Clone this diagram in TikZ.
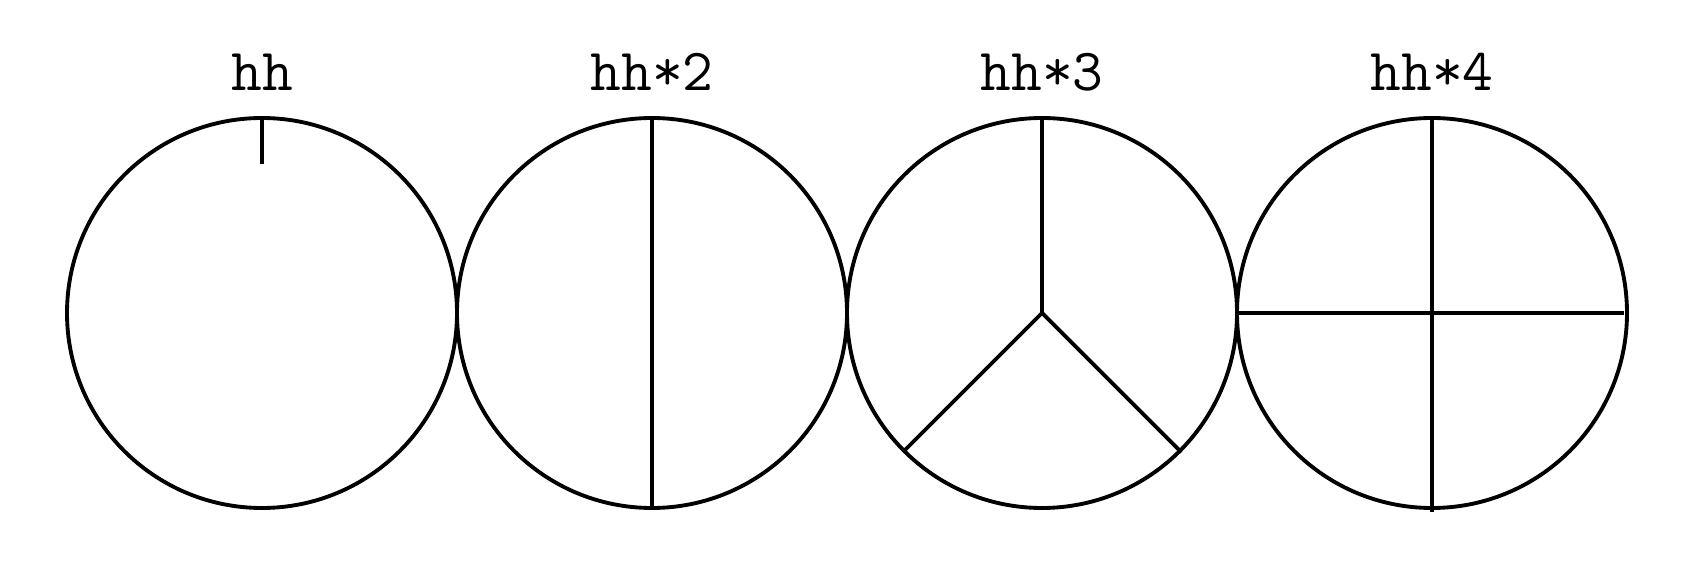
\documentclass[tikz,border=0pt]{standalone}
\usetikzlibrary{positioning}

\tikzset{
  wheel/.style={draw, circle, inner sep=0pt, minimum size=7.8cm},
  tag/.style={anchor=base, font=\ttfamily\fontsize{34pt}{34pt}\selectfont}
}

\begin{document}
\begin{tikzpicture}[line width=2.2pt]
  \useasboundingbox (0,0) rectangle (33.68,11.72);

  % 四个圆和标题
  \foreach \i/\x/\t in {1/5.24/hh, 2/13.04/hh*2, 3/20.84/hh*3, 4/28.64/hh*4} {
    \node[wheel] (w\i) at (\x,5.46) {};
    \node[tag] (t\i) at (\x,9.9) {\t};
  }

  % hh：顶部短刻度
  \coordinate (k1) at ([yshift=-0.96cm]w1.north);
  \draw (w1.north) -- (k1);

  % hh*2：竖直直径
  \draw (w2.north) -- (w2.south);

  % hh*3：三条半径
  \draw (w3.north) -- (w3.center);
  \draw (w3.center) -- (w3.-135);
  \draw (w3.center) -- (w3.-45);

  % hh*4：十字
  \coordinate (k4) at ([yshift=-0.05cm]w4.south);
  \coordinate (e4) at ([xshift=-0.1cm]w4.east);
  \draw (w4.north) -- (k4);
  \draw (w4.west) -- (e4);
\end{tikzpicture}
\end{document}
